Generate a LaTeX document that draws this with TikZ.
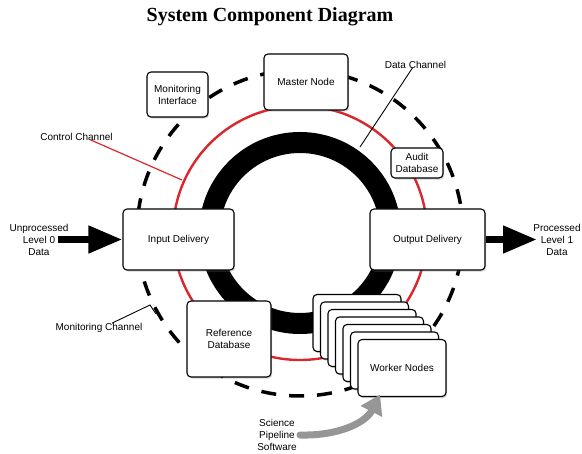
\documentclass[tikz,border=0pt]{standalone}
\usepackage{fontspec}
\newfontfamily\lab{Liberation Sans}
\newfontfamily\titlefont{Liberation Serif}
\usetikzlibrary{arrows.meta,shadows}
\definecolor{chanred}{RGB}{218,38,44}
\definecolor{pipegray}{RGB}{150,150,150}
\begin{document}
\begin{tikzpicture}[x=1pt,y=-1pt,
  box/.style={draw=black, line width=1.1pt, fill=white, rounded corners=4pt,
    inner sep=0pt, align=center, font=\lab\fontsize{10}{12}\selectfont,
    drop shadow={shadow xshift=1.2pt, shadow yshift=-1.6pt, opacity=0.35}},
  lbl/.style={align=center, inner sep=0pt, font=\lab\fontsize{10}{12}\selectfont},
  bigarrow/.style={line width=7.5pt, -{Triangle[length=34pt,width=26pt]}},
  ringdash/.style={line width=3.5pt, dash pattern=on 15pt off 13pt}]
\useasboundingbox (0,0) rectangle (582,454);

% title
\node (title) at (270,17) {\titlefont\fontsize{20}{24}\selectfont\bfseries System Component Diagram};

% the three concentric channels
\coordinate (c) at (300,233);
\draw[line width=21pt] (c) circle[radius=90.5];
\draw[chanred, line width=2.4pt] (c) circle[radius=127];
\draw[ringdash] (c) circle[radius=163];

% channel labels and leader lines
\node[lbl] (cchan) at (76.5,137) {Control Channel};
\coordinate (cend) at (182,180);
\draw[chanred, line width=1.2pt] ([xshift=14pt,yshift=1pt]cchan.south) -- (cend);

\node[lbl] (dchan) at (415.5,65) {Data Channel};
\coordinate (dend) at (360,147);
\draw[line width=0.9pt] ([xshift=-3pt,yshift=1pt]dchan.south) -- (dend);

\node[lbl] (mchan) at (99,328) {Monitoring Channel};
\coordinate (mpeak) at (150,305);
\coordinate (mend) at (156,314);
\draw[line width=0.9pt] ([xshift=13pt]mchan.north) -- (mpeak) -- (mend);

% components
\node[box, minimum width=84pt, minimum height=56pt] (master) at (306,82) {Master Node};
\node[box, minimum width=61pt, minimum height=45pt] (monitor) at (177.5,94.5) {Monitoring\\Interface};
\node[box, minimum width=52pt, minimum height=30pt] (audit) at (417,163) {Audit\\Database};
\node[box, minimum width=111pt, minimum height=61pt] (input) at (178.5,239.5) {Input Delivery};
\node[box, minimum width=115pt, minimum height=61pt] (output) at (427.5,239.5) {Output Delivery};
\node[box, minimum width=84pt, minimum height=76pt] (refdb) at (229,339) {Reference\\Database};

% stack of worker nodes
\foreach \i in {0,...,5}
  \node[box, minimum width=88pt, minimum height=57pt] (w\i) at (357+7.5*\i,323+7.5*\i) {};
\node[box, minimum width=88pt, minimum height=57pt] (workers) at (402,368) {Worker Nodes};

% data in and out
\node[lbl] (inlab) at (39,240) {Unprocessed\\Level 0\\Data};
\coordinate (instart) at (58,239.5);
\draw[bigarrow] (instart) -- (input.west);

\node[lbl] (outlab) at (557,240) {Processed\\Level 1\\Data};
\coordinate (outend) at (537,239.5);
\draw[bigarrow] (output.east) -- (outend);

% science pipeline software
\node[lbl] (pipe) at (277,435) {Science\\Pipeline\\Software};
\coordinate (pipestart) at (300,435);
\coordinate (pipeend) at ([xshift=-22pt,yshift=2.5pt]workers.south);
\draw[pipegray, line width=7pt, line cap=round, -{Triangle[length=19pt,width=23pt]}]
  (pipestart) .. controls (340,436) and (366,422) .. (pipeend);
\end{tikzpicture}
\end{document}
